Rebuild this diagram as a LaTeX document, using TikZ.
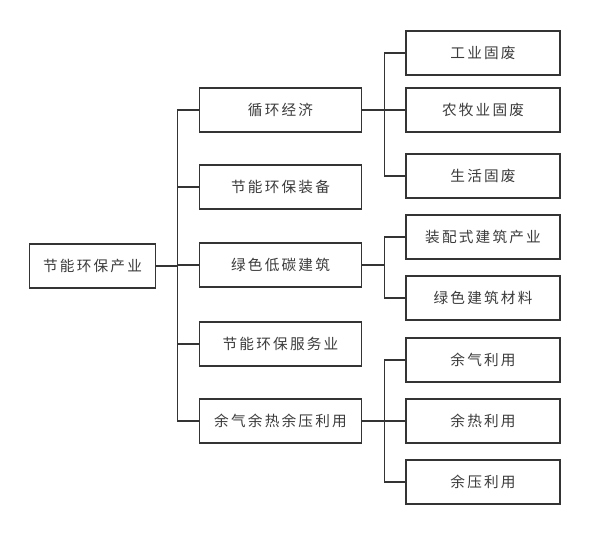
\documentclass[tikz,border=0pt]{standalone}
\usepackage{fontspec}
\newfontfamily\cjk[LetterSpace=15]{Noto Sans CJK SC}
\usetikzlibrary{positioning}
\definecolor{boxline}{RGB}{52,52,52}
\definecolor{boxtext}{RGB}{60,60,60}
\tikzset{
  catbox/.style={draw=boxline,line width=1.5pt,fill=white,inner sep=0pt,
    font=\cjk\fontsize{12.5}{14}\selectfont,text=boxtext},
  rootbox/.style={catbox,minimum width=3.78cm,minimum height=1.3cm},
  midbox/.style={catbox,minimum width=4.86cm,minimum height=1.3cm},
  leafbox/.style={catbox,minimum width=4.6cm,minimum height=1.3cm},
  link/.style={draw=boxline,line width=1.5pt}
}
\begin{document}
\begin{tikzpicture}[x=.03cm,y=-.03cm]
  \useasboundingbox (0,0) rectangle (591,536);
  % root
  \node[rootbox] (root) at (92.5,266) {节能环保产业};
  % second level
  \node[midbox] (xh) at (280.5,110) {循环经济};
  \node[midbox] (zb) at (280.5,187) {节能环保装备};
  \node[midbox] (lj) at (280.5,265) {绿色低碳建筑};
  \node[midbox] (fw) at (280.5,344) {节能环保服务业};
  \node[midbox] (yq) at (280.5,421) {余气余热余压利用};
  % third level
  \node[leafbox] (gy) at (483,53) {工业固废};
  \node[leafbox] (nm) at (483,110) {农牧业固废};
  \node[leafbox] (sh) at (483,176) {生活固废};
  \node[leafbox] (zp) at (483,237) {装配式建筑产业};
  \node[leafbox] (cl) at (483,298) {绿色建筑材料};
  \node[leafbox] (qi) at (483,360) {余气利用};
  \node[leafbox] (re) at (483,421) {余热利用};
  \node[leafbox] (ya) at (483,482) {余压利用};
  % connectors
  \draw[link] (root.east) -- ++(21,0) coordinate (b0);
  \foreach \c in {xh,zb,lj,fw,yq} \draw[link] (b0) |- (\c.west);
  \draw[link] (xh.east) -- ++(22,0) coordinate (b1);
  \foreach \c in {gy,nm,sh} \draw[link] (b1) |- (\c.west);
  \draw[link] (lj.east) -- ++(22,0) coordinate (b2);
  \foreach \c in {zp,cl} \draw[link] (b2) |- (\c.west);
  \draw[link] (yq.east) -- ++(22,0) coordinate (b3);
  \foreach \c in {qi,re,ya} \draw[link] (b3) |- (\c.west);
\end{tikzpicture}
\end{document}
